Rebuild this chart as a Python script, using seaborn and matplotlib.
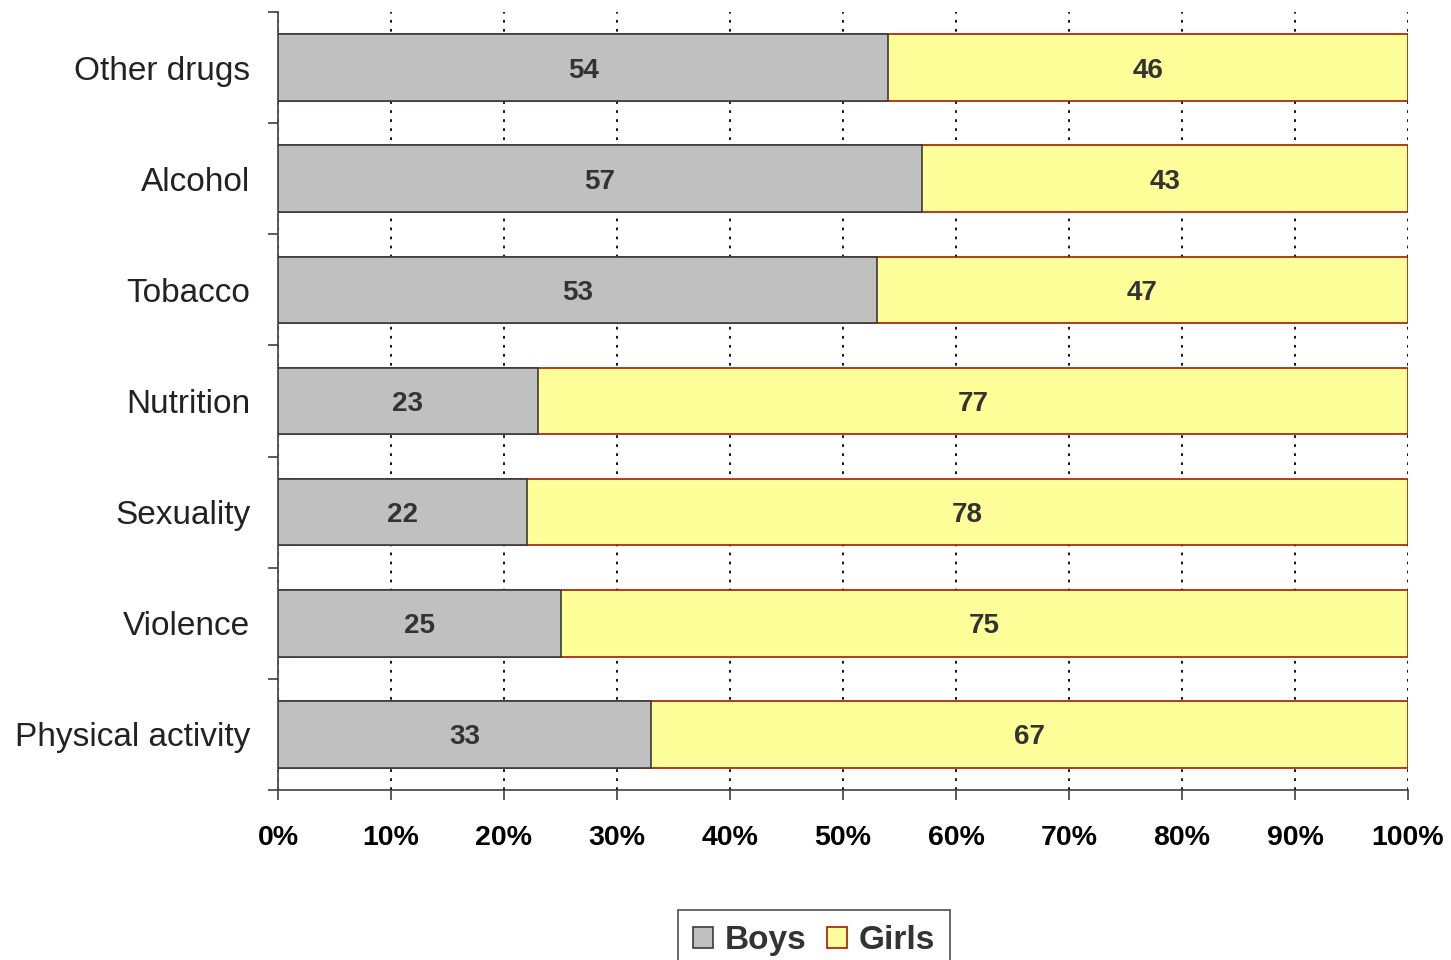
import matplotlib
matplotlib.use("Agg")
import matplotlib.pyplot as plt
from matplotlib.patches import Patch
from matplotlib.ticker import FixedLocator
import seaborn as sns
import pandas as pd

categories = ["Other drugs", "Alcohol", "Tobacco", "Nutrition", "Sexuality", "Violence", "Physical activity"]
boys = [54, 57, 53, 23, 22, 25, 33]
girls = [46, 43, 47, 77, 78, 75, 67]
xticks = [0, 10, 20, 30, 40, 50, 60, 70, 80, 90, 100]
xticklabels = [f"{t}%" for t in xticks]

df = pd.DataFrame({"cat": categories, "boys": boys, "girls": girls})
df["total"] = df["boys"] + df["girls"]

sns.set_theme(style="white")
plt.rcParams["font.family"] = ["Liberation Sans", "DejaVu Sans"]

fig = plt.figure(figsize=(14.51, 9.6), dpi=100)
ax = fig.add_axes([278 / 1451, 1 - 790 / 960, (1408 - 278) / 1451, (790 - 12) / 960])

gray = "#C0C0C0"
yellow = "#FFFF99"
sns.barplot(data=df, y="cat", x="total", order=categories, orient="h", ax=ax,
            color=yellow, saturation=1, width=0.6, edgecolor="#A31A00", linewidth=1.2, zorder=3)
sns.barplot(data=df, y="cat", x="boys", order=categories, orient="h", ax=ax,
            color=gray, saturation=1, width=0.6, edgecolor="#3A3A3A", linewidth=1.2, zorder=4)

for i, (b, g) in enumerate(zip(boys, girls)):
    ax.text(b / 2, i, str(b), ha="center", va="center_baseline", fontsize=20,
            fontweight="bold", color="#333333", zorder=6)
    ax.text(b + g / 2, i, str(g), ha="center", va="center_baseline", fontsize=20,
            fontweight="bold", color="#333333", zorder=6)

ax.set_xlim(0, 100)
ax.set_ylim(6.5, -0.5)
ax.set_xlabel("")
ax.set_ylabel("")

ax.set_xticks(xticks)
ax.set_xticklabels(xticklabels, fontsize=20.5, fontweight="bold", color="black")
ax.xaxis.grid(True, linestyle=(0, (1.5, 3.5)), color="black", linewidth=1.3, zorder=0)
ax.set_axisbelow(True)

ax.set_yticks(range(len(categories)))
ax.set_yticklabels(categories, fontsize=24, color="#222222")
ax.yaxis.set_minor_locator(FixedLocator([i - 0.5 for i in range(len(categories) + 1)]))
ax.tick_params(axis="y", which="major", length=0, pad=20)
ax.tick_params(axis="y", which="minor", left=True, length=7, width=1.2, color="#404040")
ax.tick_params(axis="x", which="major", bottom=True, length=7, width=1.2, color="#404040", pad=18)

for s in ["top", "right"]:
    ax.spines[s].set_visible(False)
for s in ["left", "bottom"]:
    ax.spines[s].set_color("#404040")
    ax.spines[s].set_linewidth(1.2)

handles = [Patch(facecolor=gray, edgecolor="#3A3A3A", linewidth=1.2, label="Boys"),
           Patch(facecolor=yellow, edgecolor="#A31A00", linewidth=1.2, label="Girls")]
leg = fig.legend(handles=handles, loc="upper center", bbox_to_anchor=(814 / 1451, 1 - 910 / 960),
                 ncol=2, frameon=True, fancybox=False, handlelength=0.6, handleheight=0.6,
                 handletextpad=0.35, columnspacing=0.6, borderpad=0.45, borderaxespad=0,
                 prop={"family": "Liberation Sans", "weight": "bold", "size": 24})
leg.get_frame().set_edgecolor("#333333")
leg.get_frame().set_linewidth(1.3)
for t in leg.get_texts():
    t.set_color("#333333")

fig.savefig("out.png", dpi=100)
